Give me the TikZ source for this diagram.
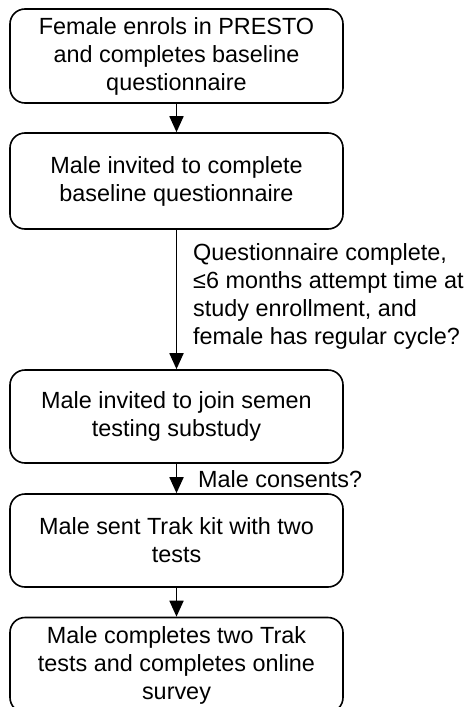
\documentclass[tikz,border=0pt]{standalone}
\usepackage{fontspec}
\setmainfont{Liberation Sans}
\usetikzlibrary{arrows.meta}
\begin{document}
\begin{tikzpicture}[x=1pt,y=-1pt,
  box/.style={draw, line width=1.6pt, rounded corners=15pt, minimum width=333pt, align=center, inner sep=0pt, font=\fontsize{23.4}{28}\selectfont},
  lbl/.style={anchor=west, align=left, inner sep=0pt, font=\fontsize{23.4}{28}\selectfont},
  arr/.style={line width=1.8pt, -{Triangle[length=16pt,width=14pt]}}]
\useasboundingbox (0,0) rectangle (466,707);
\node[box, minimum height=94pt] (b1) at (176.5,56) {Female enrols in PRESTO\\and completes baseline\\questionnaire};
\node[box, minimum height=96pt] (b2) at (176.5,181) {Male invited to complete\\baseline questionnaire};
\node[box, minimum height=93pt] (b3) at (176.5,416.5) {Male invited to join semen\\testing substudy};
\node[box, minimum height=93pt] (b4) at (176.5,540.5) {Male sent Trak kit with two\\tests};
\node[box, minimum height=95pt] (b5) at (176.5,665) {Male completes two Trak\\tests and completes online\\survey};
\draw[arr] (b1) -- (b2);
\draw[arr] (b2) -- (b3);
\draw[arr] (b3) -- (b4);
\draw[arr] (b4) -- (b5);
\node[lbl] (l1) at (193,296) {Questionnaire complete,\\≤6 months attempt time at\\study enrollment, and\\female has regular cycle?};
\node[lbl] (l2) at (198,479) {Male consents?};
\end{tikzpicture}
\end{document}
